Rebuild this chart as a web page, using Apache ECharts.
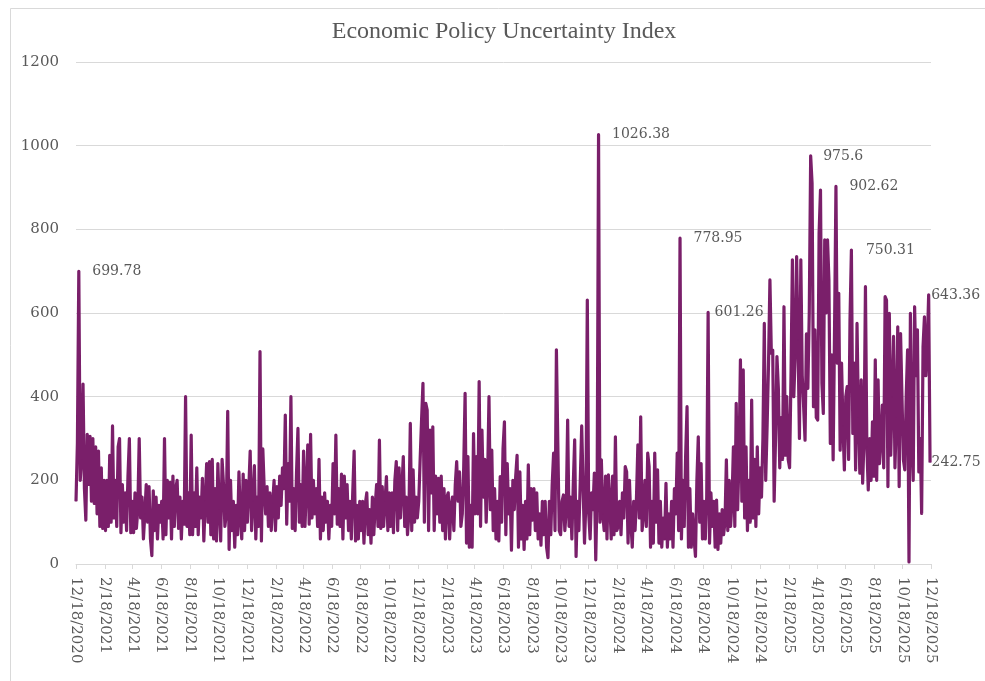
<!DOCTYPE html>
<html>
<head>
<meta charset="utf-8">
<script src="https://cdn.jsdelivr.net/npm/echarts@6/dist/echarts.min.js"></script>
<style>
html,body{margin:0;padding:0;background:#fff;}
#chart{width:985px;height:681px;}
</style>
</head>
<body>
<div id="chart"></div>
<script>
// ---- DATA ----
const chartTitle = 'Economic Policy Uncertainty Index';
const startDate = [2020, 12, 18];
const endDate = [2025, 12, 18];
const stepDays = 3; // one reading every 3 days, starting 12/18/2020
const yTicks = [0, 200, 400, 600, 800, 1000, 1200];

// readings, grouped by two-month tick interval (Dec-Feb, Feb-Apr, ...)
const v2021a = [150,290,699.78,200,250,430,180,105,310,190,305,150,300,145,280,120,270,90,230,85,200];
const v2021b = [80,200,90,260,100,330,110,200,90,280,300,75,190,100,170,80,210,300,75,150];
const v2021c = [75,170,85,130,300,110,160,60,120,190,100,185,60,20,175,80,160,60,140,100];
const v2021d = [150,60,300,70,200,110,195,60,210,90,180,200,85,160,60,150,95,400,90,170,70];
const v2021e = [308,70,170,90,230,70,160,110,205,55,150,240,100,245,70,250,60,180,55,240];
const v2021f = [130,55,250,190,90,120,365,35,200,80,150,40,140,70,220,110,60,215,80,200];
const v2022a = [100,180,270,80,150,235,60,160,90,508,55,275,180,120,185,90,170,80,145,200,80];
const v2022b = [185,110,210,140,230,180,356,95,240,150,400,85,180,80,220,324,100,190,90,270];
const v2022c = [90,180,285,95,310,110,200,120,180,90,250,60,160,80,170,100,150,60,140,90];
const v2022d = [240,120,308,95,180,90,215,60,210,110,190,80,150,60,170,270,55,140,60,150,80];
const v2022e = [150,50,145,170,70,130,50,160,70,140,190,90,296,85,185,90,150,209,80,170];
const v2022f = [90,170,75,200,245,80,230,110,180,257,90,160,70,120,336,80,225,100,160,110];
const v2023a = [150,250,344,432,100,384,368,80,320,170,328,80,210,120,205,100,210,80,180,60,160];
const v2023b = [170,60,140,160,80,190,245,150,220,90,120,230,408,50,257,40,140,40,312,120];
const v2023c = [257,120,436,90,320,160,250,100,200,400,130,272,80,180,60,150,55,209,100,276];
const v2023d = [340,70,240,120,180,33,200,130,209,260,40,220,60,140,35,150,60,237,70,180];
const v2023e = [105,180,80,170,60,120,45,150,70,150,40,15,150,70,190,265,80,512,289,80];
const v2023f = [70,150,165,80,130,344,90,160,60,190,297,18,150,80,200,330,185,50,150,631,120];
const v2024a = [60,170,130,217,10,180,1026.38,100,249,120,80,210,60,213,150,60,210,70,304,80];
const v2024b = [90,150,70,170,110,233,220,50,200,100,40,150,80,160,285,110,352,80,120,200];
const v2024c = [90,265,233,40,150,50,265,100,225,50,150,40,110,60,193,40,120,60,150,40,180];
const v2024d = [120,265,80,778.95,60,200,90,260,376,40,180,40,120,60,18,200,304,100,240,60];
const v2024e = [150,60,160,601.26,50,170,90,150,40,153,35,120,50,130,70,100,249,80,200,90,150];
const v2024f = [280,90,384,130,250,488,150,464,110,280,80,200,100,392,110,250,90,280,120,230];
const v2025a = [160,300,575,200,330,480,679,504,511,150,300,496,420,230,350,250,615,260,400,250];
const v2025b = [230,450,727,400,500,735,536,300,727,450,376,296,550,420,600,975.6,910,376,560,350];
const v2025c = [344,791,894,432,360,775,600,775,679,288,500,249,560,902.62,480,647,272,480,330,225,400];
const v2025d = [424,250,583,750.31,312,480,225,575,350,217,440,193,300,663,280,177,300,200,340,210];
const v2025e = [488,200,440,240,300,380,230,639,631,185,599,260,400,544,230,350,567,185,551,400,250];
const v2025f = [225,400,512,5,599,300,200,615,450,560,220,300,121,520,591,450,520,643.36,242.75];

// labelled readings: [reading index, gap to label]
const labelledReadings = [[2,13],[372,13],[430,13],[450,6],[523,12],[541,13],[552,14],[607,2],[608,1]];

// ---- BUILD ----
const values = [].concat(v2021a,v2021b,v2021c,v2021d,v2021e,v2021f,
  v2022a,v2022b,v2022c,v2022d,v2022e,v2022f,
  v2023a,v2023b,v2023c,v2023d,v2023e,v2023f,
  v2024a,v2024b,v2024c,v2024d,v2024e,v2024f,
  v2025a,v2025b,v2025c,v2025d,v2025e,v2025f);

const categories = [];
{
  const t0 = Date.UTC(startDate[0], startDate[1]-1, startDate[2]);
  const t1 = Date.UTC(endDate[0], endDate[1]-1, endDate[2]);
  for (let t = t0; t <= t1; t += 86400000) {
    const d = new Date(t);
    categories.push((d.getUTCMonth()+1) + '/' + d.getUTCDate() + '/' + d.getUTCFullYear());
  }
}
const labelMap = {};
labelledReadings.forEach(([i,g]) => labelMap[i] = g);

const seriesData = values.map((v, i) => {
  const item = { value: [categories[i*stepDays], v] };
  if (labelMap[i] !== undefined) {
    item.label = { show: true, distance: labelMap[i] };
  }
  return item;
});

const isTick = (idx, val) => /^(2|4|6|8|10|12)\/18\//.test(val);

const txt = '#595959';
const grid = '#d9d9d9';
const serif = 'DejaVu Serif';
const purple = '#7a1f6a';

const chart = echarts.init(document.getElementById('chart'), null, {renderer: 'canvas'});
chart.setOption({
  animation: false,
  backgroundColor: '#ffffff',
  title: {
    text: chartTitle,
    left: 499, top: 15, textAlign: 'center',
    textStyle: { fontFamily: 'Liberation Serif', fontSize: 24, fontWeight: 'normal', color: txt }
  },
  graphic: [{
    type: 'rect', silent: true,
    shape: { x: 10.5, y: 8.5, width: 1000, height: 700 },
    style: { fill: 'none', stroke: grid, lineWidth: 1 }
  }],
  grid: { left: 76, right: 54, top: 62, bottom: 117, containLabel: false },
  xAxis: {
    type: 'category',
    data: categories,
    boundaryGap: false,
    axisLine: { lineStyle: { color: grid, width: 1 } },
    axisTick: { show: true, interval: isTick, length: 5, lineStyle: { color: grid } },
    axisLabel: {
      interval: isTick, rotate: -90, margin: 13,
      fontFamily: serif, fontSize: 15, color: txt
    },
    splitLine: { show: false }
  },
  yAxis: {
    type: 'value', min: 0, max: 1200, interval: 200,
    axisLine: { show: false }, axisTick: { show: false },
    axisLabel: { margin: 17, fontFamily: serif, fontSize: 15, color: txt,
      formatter: v => yTicks.includes(v) ? String(v) : '' },
    splitLine: { lineStyle: { color: grid, width: 1 } }
  },
  series: [{
    type: 'line',
    data: seriesData,
    showSymbol: true, showAllSymbol: true,
    symbol: 'circle', symbolSize: 1,
    itemStyle: { color: purple },
    lineStyle: { color: purple, width: 3.2, join: 'round' },
    sampling: null,
    label: {
      show: false, position: 'right',
      fontFamily: serif, fontSize: 14, color: txt,
      formatter: p => String(p.value[1])
    },
    emphasis: { disabled: true }
  }]
});
</script>
</body>
</html>
